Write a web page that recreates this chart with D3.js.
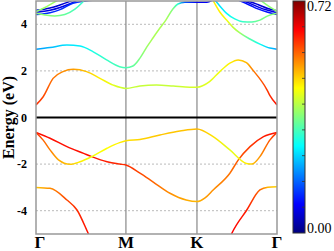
<!DOCTYPE html>
<html>
<head>
<meta charset="utf-8">
<script src="https://cdn.jsdelivr.net/npm/d3@7/dist/d3.min.js"></script>
<style>
body { margin: 0; background: #fff; }
svg { display: block; }
</style>
</head>
<body>
<div id="chart"></div>
<script>
// high symmetry points along the path
var kLabels = ["Γ", "M", "K", "Γ"];
var kTicks = [0, 1.0, 1.79, 2.68];
var yTicks = [-4, -2, 0, 2, 4];
var cbMax = 0.72;
var cbTicks = [0.08, 0.16, 0.24, 0.32, 0.40, 0.48, 0.56, 0.64];

// bands as [k, energy (eV), weight]
var bandV1 = [[0, -0.64, 0.6], [0.08, -0.97, 0.56], [0.156, -1.39, 0.54], [0.25, -1.82, 0.51], [0.378, -2.01, 0.49],
  [0.49, -1.9, 0.46], [0.62, -1.68, 0.44], [0.79, -1.32, 0.45], [0.93, -1.08, 0.46], [1.0, -1.0, 0.47],
  [1.156, -0.94, 0.48], [1.378, -0.75, 0.49], [1.6, -0.58, 0.49], [1.79, -0.49, 0.5], [1.97, -0.82, 0.47],
  [2.156, -1.39, 0.43], [2.34, -1.97, 0.46], [2.4, -2.0, 0.49], [2.49, -1.68, 0.53], [2.6, -0.97, 0.57], [2.68, -0.64, 0.6]];
var bandV2 = [[0, -0.64, 0.62], [0.156, -0.89, 0.62], [0.344, -1.25, 0.62], [0.53, -1.54, 0.62], [0.62, -1.68, 0.62],
  [0.79, -1.9, 0.61], [0.93, -2.0, 0.6], [1.0, -2.04, 0.6], [1.156, -2.39, 0.58], [1.3, -2.76, 0.56],
  [1.49, -3.25, 0.53], [1.67, -3.54, 0.51], [1.79, -3.61, 0.5], [1.88, -3.45, 0.52], [1.97, -3.11, 0.53],
  [2.156, -2.39, 0.55], [2.25, -1.82, 0.57], [2.38, -1.25, 0.59], [2.53, -0.82, 0.61], [2.68, -0.64, 0.62]];
var bandV3a = [[0, -3.0, 0.49], [0.156, -3.04, 0.53], [0.344, -3.54, 0.58], [0.456, -3.97, 0.6], [0.58, -4.97, 0.62], [0.656, -5.6, 0.62]];
var bandV3b = [[2.11, -5.6, 0.63], [2.178, -4.97, 0.63], [2.344, -3.97, 0.61], [2.49, -3.11, 0.56], [2.578, -2.99, 0.5], [2.68, -2.97, 0.48]];

var bandC1 = [[0, 0.54, 0.6], [0.08, 0.89, 0.58], [0.19, 1.68, 0.55], [0.3, 1.97, 0.53], [0.415, 2.07, 0.52],
  [0.563, 1.97, 0.49], [0.711, 1.68, 0.46], [0.859, 1.39, 0.43], [1.0, 1.25, 0.41], [1.156, 1.35, 0.41],
  [1.34, 1.39, 0.41], [1.526, 1.35, 0.41], [1.71, 1.3, 0.42], [1.79, 1.3, 0.42], [1.93, 1.54, 0.43],
  [2.044, 1.97, 0.44], [2.156, 2.33, 0.46], [2.248, 2.47, 0.48], [2.34, 2.35, 0.5], [2.41, 2.04, 0.54],
  [2.567, 1.2, 0.59], [2.6, 0.95, 0.6], [2.68, 0.54, 0.62]];
var bandC2 = [[0, 2.93, 0.2], [0.156, 3.0, 0.22], [0.344, 3.11, 0.25], [0.49, 3.07, 0.26], [0.637, 2.82, 0.29],
  [0.785, 2.47, 0.31], [0.93, 2.18, 0.32], [1.0, 2.14, 0.32], [1.078, 2.21, 0.34], [1.156, 2.55, 0.36],
  [1.233, 3.03, 0.38], [1.3, 3.41, 0.39], [1.378, 3.84, 0.39], [1.444, 4.18, 0.39], [1.522, 4.66, 0.36],
  [1.578, 4.87, 0.3], [1.656, 4.95, 0.15], [1.79, 4.95, 0.08], [1.9, 4.95, 0.08], [1.967, 5.05, 0.1]];
var bandC2r = [[1.967, 5.04, 0.46], [2.044, 4.53, 0.46], [2.12, 4.18, 0.44], [2.189, 3.88, 0.41], [2.267, 3.63, 0.38],
  [2.378, 3.37, 0.33], [2.49, 3.15, 0.28], [2.6, 2.98, 0.23], [2.68, 2.93, 0.2]];
var bandC3r = [[1.99, 5.04, 0.24], [2.044, 4.79, 0.25], [2.12, 4.47, 0.27], [2.21, 4.23, 0.29], [2.3, 4.11, 0.31],
  [2.4, 4.1, 0.33], [2.49, 4.18, 0.35], [2.578, 4.36, 0.36], [2.68, 4.47, 0.37]];
var bandG1 = [[0, 4.55, 0.37], [0.1, 4.72, 0.38], [0.19, 4.92, 0.38], [0.25, 5.05, 0.38]];
var bandG2 = [[0, 4.47, 0.37], [0.1, 4.4, 0.37], [0.21, 4.36, 0.36], [0.32, 4.42, 0.34], [0.433, 4.65, 0.32], [0.544, 5.05, 0.3]];
var bandB1 = [[0, 4.6, 0.06], [0.156, 4.7, 0.06], [0.267, 4.83, 0.06], [0.356, 4.95, 0.06], [0.42, 5.05, 0.06]];
var bandB2 = [[0, 4.52, 0.07], [0.156, 4.6, 0.07], [0.267, 4.72, 0.07], [0.378, 4.88, 0.07], [0.467, 5.05, 0.07]];
var bandB3 = [[0, 4.42, 0.12], [0.156, 4.5, 0.12], [0.267, 4.63, 0.12], [0.41, 4.9, 0.12], [0.55, 5.0, 0.12], [0.69, 5.05, 0.12]];
var bandBR1 = [[2.3, 5.05, 0.06], [2.378, 4.97, 0.06], [2.467, 4.85, 0.06], [2.578, 4.68, 0.06], [2.68, 4.58, 0.06]];
var bandBR2 = [[2.267, 5.05, 0.07], [2.378, 4.9, 0.07], [2.467, 4.75, 0.07], [2.578, 4.6, 0.07], [2.68, 4.5, 0.07]];
var bandBR3 = [[2.244, 5.05, 0.1], [2.378, 4.82, 0.1], [2.467, 4.66, 0.1], [2.578, 4.52, 0.1], [2.68, 4.42, 0.1]];
var bandGR1 = [[2.49, 5.05, 0.36], [2.578, 4.8, 0.37], [2.68, 4.55, 0.37]];

var bands = [bandB1, bandB2, bandB3, bandBR1, bandBR2, bandBR3, bandG1, bandG2, bandGR1, bandC3r,
  bandC2, bandC2r, bandC1, bandV3a, bandV3b, bandV2, bandV1];

function drawBands() {
    var W = 334, H = 251;
    var pl = 36, pr = 277, pt = 1, pb = 234;

    var svg = d3.select("#chart").append("svg")
        .attr("width", W)
        .attr("height", H);

    var x = d3.scaleLinear().domain([0, kTicks[3]]).range([pl, pr]);
    var y = d3.scaleLinear().domain([-5, 5]).range([pb, pt]);

    // jet colormap
    var jet = d3.scaleLinear()
        .domain([0, 0.125, 0.375, 0.625, 0.875, 1].map(function (t) { return t * cbMax; }))
        .range(["#00007f", "#0000ff", "#00ffff", "#ffff00", "#ff0000", "#7f0000"]);

    var defs = svg.append("defs");
    defs.append("clipPath").attr("id", "clip")
        .append("rect")
        .attr("x", pl).attr("y", pt)
        .attr("width", pr - pl).attr("height", pb - pt);

    // dotted grid
    svg.append("g")
        .selectAll("line")
        .data(yTicks.filter(function (d) { return d != 0; }))
        .enter().append("line")
        .attr("x1", pl).attr("x2", pr)
        .attr("y1", function (d) { return y(d); })
        .attr("y2", function (d) { return y(d); })
        .style("stroke", "#bbb")
        .style("stroke-dasharray", "2,2");

    // vertical lines at M and K
    svg.append("g")
        .selectAll("line")
        .data(kTicks.slice(1, 3))
        .enter().append("line")
        .attr("x1", function (d) { return x(d); })
        .attr("x2", function (d) { return x(d); })
        .attr("y1", pt).attr("y2", pb)
        .style("stroke", "#888")
        .style("stroke-width", 1.2);

    // bands with colour gradient along k
    var line = d3.line()
        .x(function (d) { return x(d[0]); })
        .y(function (d) { return y(d[1]); })
        .curve(d3.curveMonotoneX);

    bands.forEach(function (b, i) {
        var x0 = x(b[0][0]), x1 = x(b[b.length - 1][0]);
        var grad = defs.append("linearGradient")
            .attr("id", "band" + i)
            .attr("gradientUnits", "userSpaceOnUse")
            .attr("x1", x0).attr("x2", x1)
            .attr("y1", 0).attr("y2", 0);
        grad.selectAll("stop")
            .data(b)
            .enter().append("stop")
            .attr("offset", function (d) { return (x(d[0]) - x0) / (x1 - x0); })
            .attr("stop-color", function (d) { return jet(d[2]); });
    });

    svg.append("g")
        .attr("clip-path", "url(#clip)")
        .selectAll("path")
        .data(bands)
        .enter().append("path")
        .attr("d", line)
        .style("fill", "none")
        .style("stroke", function (d, i) { return "url(#band" + i + ")"; })
        .style("stroke-width", 1.5);

    // Fermi level
    svg.append("line")
        .attr("x1", pl).attr("x2", pr)
        .attr("y1", y(0)).attr("y2", y(0))
        .style("stroke", "#000")
        .style("stroke-width", 2);

    // frame
    svg.append("rect")
        .attr("x", pl).attr("y", pt)
        .attr("width", pr - pl).attr("height", pb - pt)
        .style("fill", "none")
        .style("stroke", "#999")
        .style("stroke-width", 1.5);

    // y tick labels
    svg.append("g")
        .selectAll("text")
        .data(yTicks)
        .enter().append("text")
        .attr("x", 27)
        .attr("y", function (d) { return y(d) + 4; })
        .attr("text-anchor", "end")
        .style("font-family", "Liberation Serif, Times New Roman, serif")
        .style("font-weight", "bold")
        .style("font-size", "12px")
        .text(function (d) { return d; });

    // k labels
    svg.append("g")
        .selectAll("text")
        .data(kTicks)
        .enter().append("text")
        .attr("x", function (d, i) { return x(d) + (i == 0 ? 4 : 0); })
        .attr("y", 248)
        .attr("text-anchor", "middle")
        .style("font-family", "Liberation Serif, Times New Roman, serif")
        .style("font-weight", "bold")
        .style("font-size", "17px")
        .text(function (d, i) { return kLabels[i]; });

    // axis title
    svg.append("text")
        .attr("transform", "translate(14," + ((pt + pb) / 2) + ") rotate(-90)")
        .attr("text-anchor", "middle")
        .style("font-family", "Liberation Serif, Times New Roman, serif")
        .style("font-weight", "bold")
        .style("font-size", "16px")
        .text("Energy (eV)");

    // colour bar
    var cbX = 293, cbW = 12;
    var cy = d3.scaleLinear().domain([0, cbMax]).range([pb - 1, pt]);
    var cbGrad = defs.append("linearGradient")
        .attr("id", "cbar")
        .attr("x1", 0).attr("x2", 0).attr("y1", 1).attr("y2", 0);
    cbGrad.selectAll("stop")
        .data(jet.domain())
        .enter().append("stop")
        .attr("offset", function (d) { return d / cbMax; })
        .attr("stop-color", function (d) { return jet(d); });

    svg.append("rect")
        .attr("x", cbX).attr("y", cy(cbMax))
        .attr("width", cbW).attr("height", cy(0) - cy(cbMax))
        .style("fill", "url(#cbar)")
        .style("stroke", "#333")
        .style("stroke-width", 1);

    svg.append("g")
        .selectAll("line")
        .data(cbTicks)
        .enter().append("line")
        .attr("x1", cbX + cbW - 3).attr("x2", cbX + cbW)
        .attr("y1", function (d) { return cy(d); })
        .attr("y2", function (d) { return cy(d); })
        .style("stroke", "#333")
        .style("stroke-width", 0.8);

    svg.append("g")
        .selectAll("text")
        .data([0, cbMax])
        .enter().append("text")
        .attr("x", cbX + cbW + 2)
        .attr("y", function (d) { return d == 0 ? cy(d) : cy(d) + 10; })
        .style("font-family", "Liberation Serif, Times New Roman, serif")
        .style("font-size", "14px")
        .text(function (d) { return d.toFixed(2); });
}

drawBands();
</script>
</body>
</html>
